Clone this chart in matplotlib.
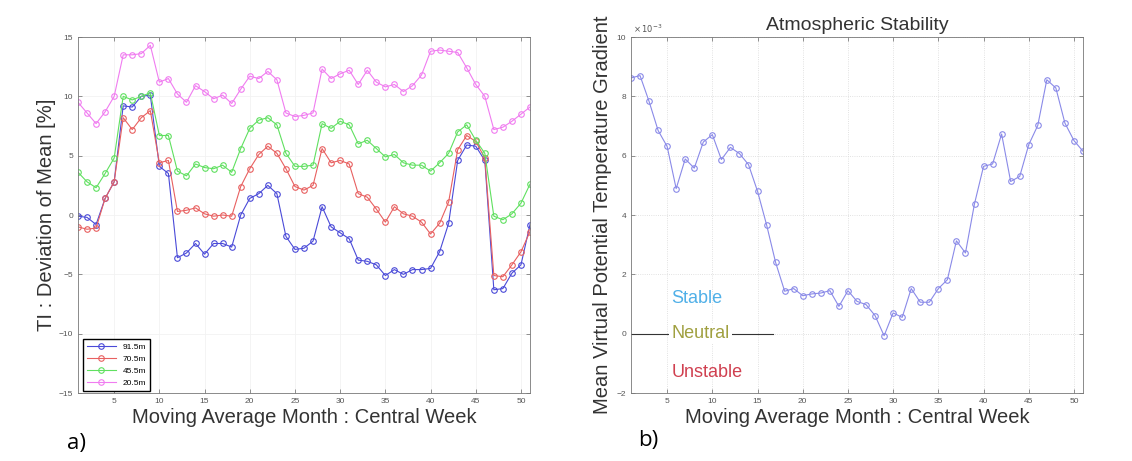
import matplotlib.pyplot as plt

plt.rcParams['font.family'] = ['Liberation Sans', 'DejaVu Sans']

weeks = list(range(1, 52))

# TI deviation of mean [%] per height
ti_91 = [-0.1, -0.2, -0.8, 1.4, 2.8, 9.2, 9.1, 10.0, 10.1, 4.1, 3.5, -3.6, -3.2, -2.4, -3.3, -2.4,
         -2.4, -2.7, 0.0, 1.4, 1.8, 2.5, 1.8, -1.8, -2.9, -2.8, -2.2, 0.7, -1.0, -1.5, -2.0, -3.8,
         -3.9, -4.2, -5.1, -4.6, -5.0, -4.6, -4.6, -4.5, -3.1, -0.7, 4.6, 5.9, 5.8, 4.6, -6.3, -6.2,
         -4.9, -4.2, -0.8]
ti_70 = [-1.0, -1.2, -1.1, 1.4, 2.8, 8.2, 7.2, 8.2, 8.8, 4.4, 4.6, 0.3, 0.4, 0.6, 0.1, -0.1,
         0.0, -0.1, 2.4, 3.9, 5.1, 5.8, 5.2, 3.9, 2.4, 2.1, 2.5, 5.6, 4.4, 4.6, 4.3, 1.8,
         1.5, 0.5, -0.6, 0.7, 0.1, -0.1, -0.6, -1.6, -0.7, 1.1, 5.5, 6.7, 6.2, 4.8, -5.1, -5.2,
         -4.2, -3.1, -1.4]
ti_45 = [3.6, 2.8, 2.3, 3.5, 4.8, 10.0, 9.7, 10.0, 10.3, 6.7, 6.7, 3.7, 3.3, 4.3, 4.0, 3.9,
         4.2, 3.6, 5.6, 7.3, 8.0, 8.2, 7.6, 5.2, 4.1, 4.1, 4.2, 7.7, 7.3, 7.9, 7.6, 6.0,
         6.3, 5.6, 4.9, 5.1, 4.4, 4.2, 4.2, 3.7, 4.4, 5.2, 7.0, 7.6, 6.3, 5.2, -0.1, -0.4,
         0.1, 1.0, 2.6]
ti_20 = [9.5, 8.6, 7.7, 8.7, 10.0, 13.5, 13.5, 13.6, 14.3, 11.2, 11.5, 10.2, 9.5, 10.9, 10.4, 9.8,
         10.1, 9.4, 10.6, 11.7, 11.5, 12.1, 11.4, 8.6, 8.3, 8.4, 8.6, 12.3, 11.5, 11.9, 12.2, 11.0,
         12.2, 11.2, 10.8, 11.0, 10.4, 10.9, 11.8, 13.8, 13.9, 13.8, 13.7, 12.4, 11.0, 10.0, 7.2, 7.4,
         7.9, 8.5, 9.1]

# mean virtual potential temperature gradient (units of 1e-3)
grad = [8.62, 8.70, 7.83, 6.85, 6.31, 4.89, 5.89, 5.58, 6.46, 6.71, 5.87, 6.28, 6.07, 5.70, 4.80,
        3.67, 2.40, 1.43, 1.52, 1.28, 1.34, 1.37, 1.45, 0.92, 1.45, 1.09, 0.98, 0.61, -0.07, 0.70,
        0.55, 1.52, 1.06, 1.06, 1.52, 1.82, 3.13, 2.72, 4.38, 5.64, 5.72, 6.73, 5.13, 5.30, 6.37,
        7.02, 8.56, 8.28, 7.10, 6.51, 6.15]

series = [('91.5m', ti_91, '#4a4ad8'), ('70.5m', ti_70, '#e86060'),
          ('45.5m', ti_45, '#60e060'), ('20.5m', ti_20, '#f07cf0')]

fig = plt.figure(figsize=(11.32, 4.61), dpi=100)
axa = fig.add_axes([0.0689, 0.1475, 0.3993, 0.7722])
axb = fig.add_axes([0.5574, 0.1475, 0.3993, 0.7722])

for ax in (axa, axb):
    ax.set_xlim(1, 51)
    ax.set_xticks(range(5, 51, 5))
    ax.tick_params(direction='in', top=True, right=True, labelsize=6, labelcolor='#555555',
                   length=3, width=0.5, color='#666666')
    for s in ax.spines.values():
        s.set_linewidth(0.6)
        s.set_color('#777777')
    ax.set_xlabel('Moving Average Month : Central Week', fontsize=14.5, color='#333333',
                  labelpad=2)

# panel a
for name, vals, col in series:
    axa.plot(weeks, vals, '-o', color=col, lw=0.8, ms=4, mfc='none', mew=0.8, label=name)
axa.set_ylim(-15, 15)
axa.set_yticks(range(-15, 16, 5))
axa.grid(True, color='#f2f2f2', lw=0.6)
axa.set_ylabel('TI : Deviation of Mean [%]', fontsize=14.5, color='#333333', labelpad=2)
axa.legend(loc='lower left', bbox_to_anchor=(0.01, 0.005), borderaxespad=0, fontsize=6,
           fancybox=False, edgecolor='black', framealpha=1, handlelength=3.5,
           labelspacing=0.5, borderpad=0.5)

# panel b
axb.plot(weeks, grad, '-o', color='#8a8ae8', lw=0.8, ms=4, mfc='none', mew=0.8)
axb.set_ylim(-2, 10)
axb.set_yticks(range(-2, 11, 2))
axb.text(0.005, 1.005, r'$\times\,10^{-3}$', transform=axb.transAxes, fontsize=6,
         color='#555555', va='bottom')
axb.grid(True, color='#d8d8d8', lw=0.6, ls=':')
axb.plot([1, 16.7], [0, 0], color='#333333', lw=0.8)
axb.text(5.5, 1.2, 'Stable', color='#50b0e8', fontsize=13, va='center')
axb.text(5.5, 0, 'Neutral', color='#a0a040', fontsize=13, va='center',
         bbox=dict(facecolor='white', edgecolor='none', pad=1.5))
axb.text(5.5, -1.3, 'Unstable', color='#d04050', fontsize=13, va='center')
axb.set_title('Atmospheric Stability', fontsize=14, color='#333333', pad=5)
axb.set_ylabel('Mean Virtual Potential Temperature Gradient', fontsize=14.5, color='#333333',
               labelpad=3)

fig.text(67 / 1132, 1 - 443 / 461, 'a)', fontsize=16, family=['Open Sans', 'DejaVu Sans'],
         va='center')
fig.text(638 / 1132, 1 - 440 / 461, 'b)', fontsize=16, family=['Open Sans', 'DejaVu Sans'],
         va='center')

fig.savefig('out.png', dpi=100)
